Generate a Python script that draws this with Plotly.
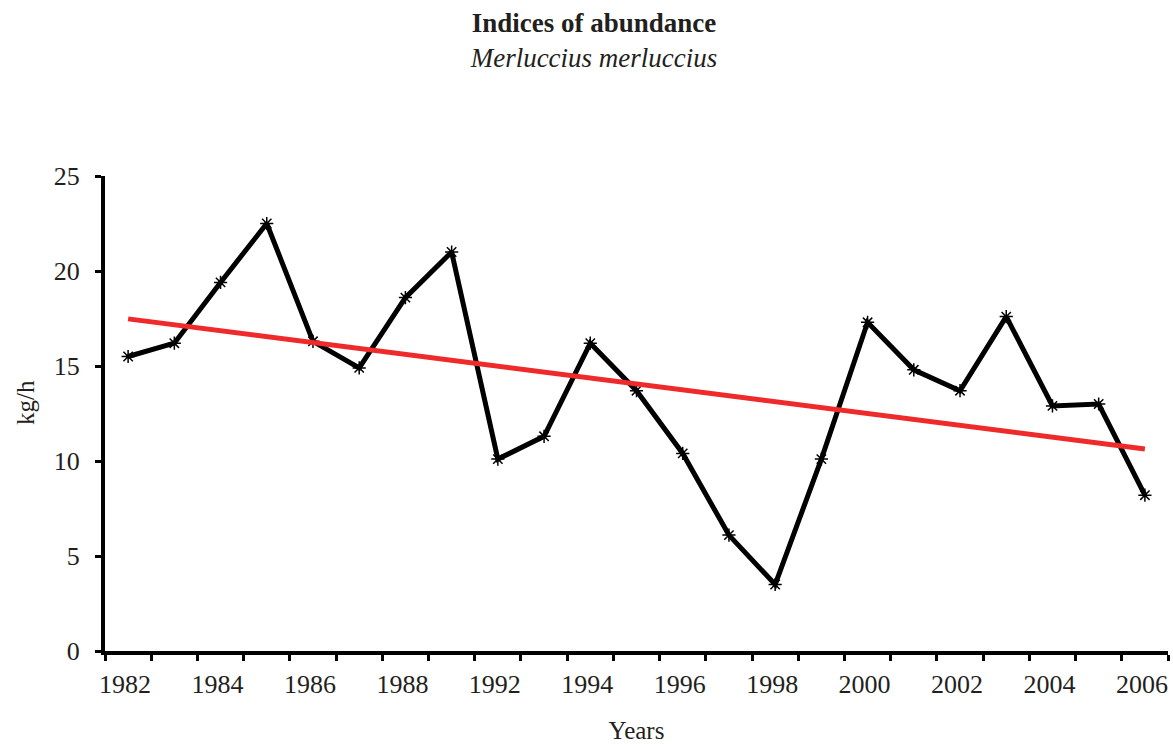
import numpy as np
import plotly.graph_objects as go

# ---- data ----
years = ["1982", "1983", "1984", "1985", "1986", "1987", "1988", "1990",
         "1992", "1993", "1994", "1995", "1996", "1997", "1998", "1999",
         "2000", "2001", "2002", "2003", "2004", "2005", "2006"]
kg_per_hour = [15.5, 16.2, 19.4, 22.5, 16.3, 14.9, 18.6, 21.0,
               10.1, 11.3, 16.2, 13.7, 10.4, 6.1, 3.5, 10.1,
               17.3, 14.8, 13.7, 17.6, 12.9, 13.0, 8.2]
y_ticks = [0, 5, 10, 15, 20, 25]

idx = np.arange(len(years))
slope, intercept = np.polyfit(idx, kg_per_hour, 1)
trend = slope * idx + intercept

label_idx = idx[::2]
label_text = [years[i] for i in label_idx]

FONT = "Liberation Serif"

fig = go.Figure()
fig.add_trace(go.Scatter(
    x=idx, y=kg_per_hour, mode="lines+markers",
    line=dict(color="black", width=5),
    marker=dict(symbol="asterisk-open", size=11, color="black",
                line=dict(color="black", width=1.5)),
    showlegend=False, cliponaxis=False,
))
fig.add_trace(go.Scatter(
    x=[idx[0], idx[-1]], y=[trend[0], trend[-1]], mode="lines",
    line=dict(color="#EE2A2A", width=5),
    showlegend=False, cliponaxis=False,
))

fig.update_layout(
    width=1173, height=744,
    paper_bgcolor="white", plot_bgcolor="white",
    margin=dict(l=105, r=5, t=176, b=93),
    font=dict(family=FONT, size=26, color="#231F20"),
    title=dict(
        text="<b>Indices of abundance</b><br><i>Merluccius merluccius</i>",
        x=0.5064, xref="container", xanchor="center",
        y=0.957, yref="container", yanchor="top",
        font=dict(family=FONT, size=27, color="#231F20"),
    ),
    xaxis=dict(
        automargin=False,
        range=[-0.5, len(years) - 0.5],
        tickmode="array", tickvals=label_idx, ticktext=label_text,
        ticks="", showgrid=False, zeroline=False,
        showline=True, linecolor="black", linewidth=4,
        minor=dict(ticks="outside", tick0=-0.5, dtick=1, ticklen=6,
                   tickwidth=3, tickcolor="black", showgrid=False),
        ticklabelstandoff=7, ticklabelshift=-3,
        title=dict(text="Years", standoff=27, font=dict(size=25)),
    ),
    yaxis=dict(
        automargin=False,
        range=[0, 25], tickmode="array", tickvals=y_ticks,
        ticks="outside", ticklen=6, tickwidth=3, tickcolor="black",
        showgrid=False, zeroline=False,
        showline=True, linecolor="black", linewidth=4,
        ticklabelstandoff=10,
    ),
    annotations=[dict(
        text="kg/h", textangle=-90, showarrow=False,
        xref="paper", yref="paper", x=-0.0753, y=0.524,
        xanchor="center", yanchor="middle",
        font=dict(family=FONT, size=25, color="#231F20"),
    )],
)

fig.write_html(
    "out.html",
    config={"displayModeBar": False},
    post_script="document.body.style.margin='0';"
                "document.body.style.overflow='hidden';",
)
